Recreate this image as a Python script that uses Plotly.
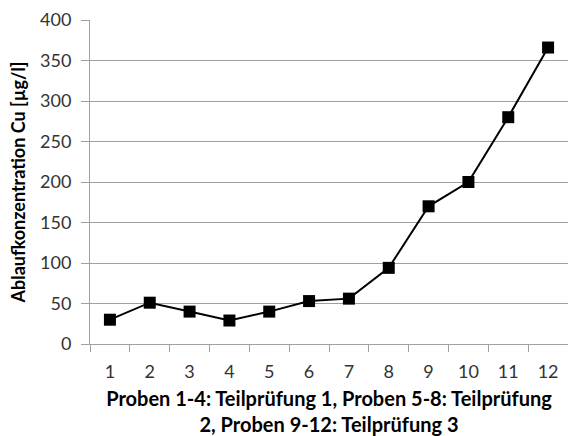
import plotly.graph_objects as go

probes = [str(i) for i in range(1, 13)]
cu = [30, 51, 40, 29, 40, 53, 56, 94, 170, 200, 280, 366]

y_title = "Ablaufkonzentration Cu [µg/l]"
x_title = "Proben 1-4: Teilprüfung 1, Proben 5-8: Teilprüfung<br>2, Proben 9-12: Teilprüfung 3"

font_family = "Lato, 'Open Sans', sans-serif"
grid = "#A0A0A0"

fig = go.Figure(go.Scatter(
    x=probes, y=cu, mode="lines+markers",
    line=dict(color="black", width=2),
    marker=dict(symbol="square", size=12, color="black"),
))

fig.update_layout(
    width=568, height=436,
    margin=dict(l=90, r=0, t=20, b=92),
    paper_bgcolor="white", plot_bgcolor="white",
    showlegend=False,
    font=dict(family=font_family, color="#222222"),
)
fig.update_xaxes(
    type="category", tickson="boundaries", range=[-0.5, 11.5],
    ticks="outside", ticklen=7, tickcolor=grid, tickwidth=1,
    showline=True, linecolor=grid, linewidth=1,
    showgrid=False,
    tickfont=dict(size=18, color="#333333"),
    ticklabelstandoff=11,
    title=dict(text=x_title, font=dict(size=20, color="black", weight="bold"), standoff=11),
)
fig.update_yaxes(
    range=[0, 400], dtick=50,
    ticks="outside", ticklen=8, tickcolor=grid, tickwidth=1,
    showline=True, linecolor=grid, linewidth=1,
    showgrid=True, gridcolor=grid, gridwidth=1,
    zeroline=False,
    tickfont=dict(size=18, color="#333333"),
    ticklabelstandoff=6,
    title=dict(text=y_title, font=dict(size=18, color="black", weight="bold"), standoff=9),
)

fig.write_html("out.html")
